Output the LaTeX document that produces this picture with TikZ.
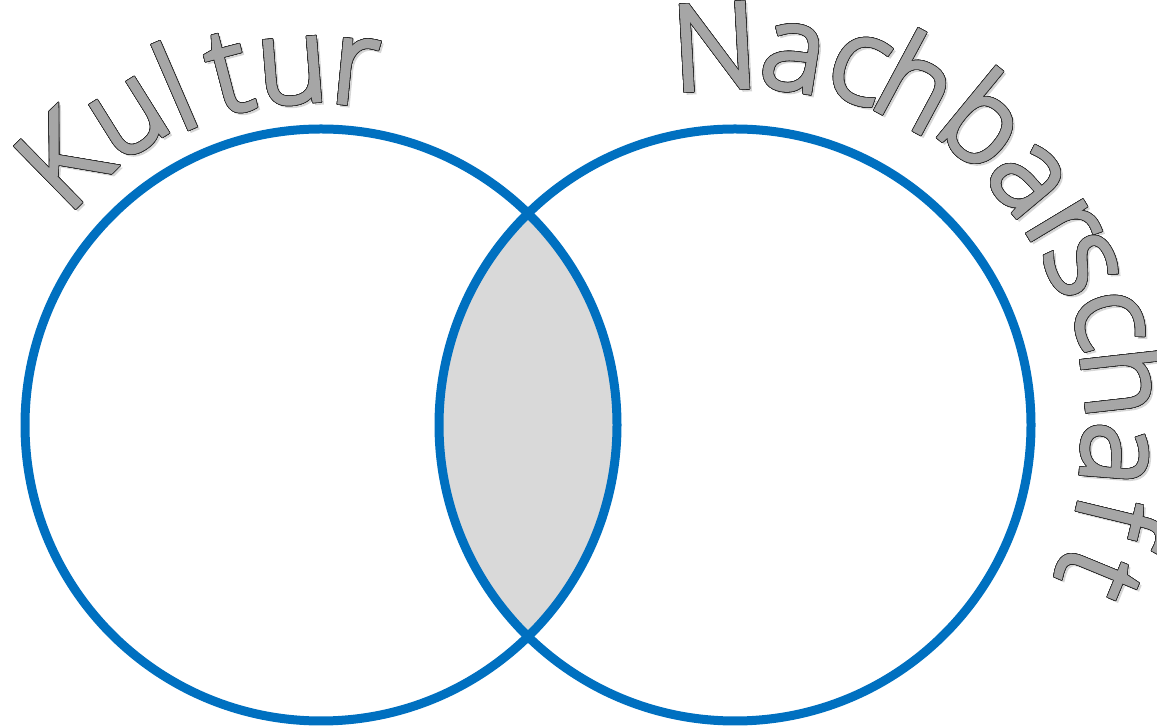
\documentclass[tikz,border=0pt]{standalone}
\usepackage{fontspec}
\IfFontExistsTF{Open Sans Light}{\newfontfamily\titlefont{Open Sans Light}[FakeBold=3.5]}{\newfontfamily\titlefont{Open Sans}}
\usepackage{xcolor}
\usepackage{contour}
\contourlength{0.6pt}
\contournumber{24}

\definecolor{ringblue}{RGB}{0,112,192}
\definecolor{lensgray}{RGB}{217,217,217}
\definecolor{lettergray}{RGB}{166,166,166}
\newcommand{\outlined}[1]{\contour{black!85}{\textcolor{lettergray}{#1}}}

\begin{document}
\begin{tikzpicture}[x=1pt, y=1pt]
        \tikzstyle{ring} = [circle, draw=ringblue, line width=9pt, minimum size=592pt, inner sep=0pt]
        \tikzstyle{letter} = [anchor=base, inner sep=0pt, font=\titlefont\fontsize{118}{122}\selectfont]
        \tikzstyle{ghost} = [letter, text=black!40, opacity=0.4]

        \useasboundingbox (0,0) rectangle (1157,728);
        \coordinate (lc) at (321,303);
        \coordinate (rc) at (735,303);

        % overlap of the two sets
        \begin{scope}
            \clip (lc) circle (296);
            \fill[lensgray] (rc) circle (296);
        \end{scope}
        \node [ring] (kultur) at (lc) {};
        \node [ring] (nachbar) at (rc) {};

        % curved titles
        \foreach \ch/\ang/\rad [count=\i] in {K/134.4/328, u/122/330, l/113.4/325, t/104.6/325, u/94.6/324, r/84.5/323} {
            \node [ghost, rotate=\ang-90] at ([shift={(\ang:\rad)}, xshift=2.5pt, yshift=-2.5pt]lc) {\ch};
            \node [letter, rotate=\ang-90] (kul\i) at ([shift={(\ang:\rad)}]lc) {\outlined{\ch}};
        }
        \foreach \ch/\ang/\rad [count=\i] in {N/93.1/337, a/81.0/340, c/70.9/345, h/61.8/345, b/50.6/352, a/40/350, r/31/350, s/24.8/350, c/15.8/356, h/6.4/352, a/-4.4/349, f/-13.6/353, t/-22.4/354} {
            \node [ghost, rotate=\ang-90] at ([shift={(\ang:\rad)}, xshift=2.5pt, yshift=-2.5pt]rc) {\ch};
            \node [letter, rotate=\ang-90] (nach\i) at ([shift={(\ang:\rad)}]rc) {\outlined{\ch}};
        }
\end{tikzpicture}
\end{document}
